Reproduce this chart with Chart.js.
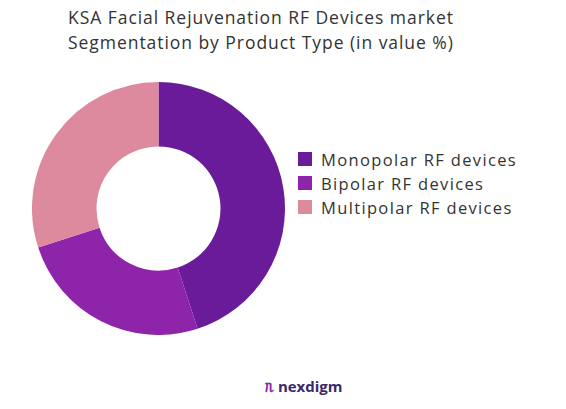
<!DOCTYPE html>
<html><head><meta charset="utf-8">
<script src="https://cdn.jsdelivr.net/npm/chart.js@4"></script>
<style>
body{margin:0;width:566px;height:409px;background:#fff;font-family:"Open Sans",sans-serif;position:relative;overflow:hidden}
#t{position:absolute;left:68px;top:5px;font-size:17.5px;letter-spacing:0.95px;color:#333;line-height:25px}
#w{position:absolute;left:32px;top:82px;width:253px;height:253px}
#lg{position:absolute;left:298px;top:147px;font-size:16.5px;letter-spacing:1.35px;color:#333}
#lg div{height:24px;display:flex;align-items:center}
#lg span{display:inline-block;width:14px;height:14px;margin-right:9px}
#logo{position:absolute;left:265px;top:376px;font-size:15px;font-weight:bold;color:#3a2a6a}
</style></head><body>
<div id="t">KSA Facial Rejuvenation RF Devices market<br>Segmentation by Product Type (in value %)</div>
<div id="w"><canvas id="c"></canvas></div>
<div id="lg"></div>
<div id="logo"><span style="color:#8e24aa">ᥰ</span> nexdigm</div>
<script>
const categories=["Monopolar RF devices","Bipolar RF devices","Multipolar RF devices"];
const values=[45,25,30];
const colors=["#6a1b9a","#8e24aa","#de8a9e"];
document.getElementById('lg').innerHTML=categories.map((c,i)=>`<div><span style="background:${colors[i]}"></span>${c}</div>`).join('');
new Chart(document.getElementById('c'),{type:'doughnut',
data:{labels:categories,datasets:[{data:values,backgroundColor:colors,borderWidth:0}]},
options:{responsive:true,maintainAspectRatio:false,animation:false,cutout:'49%',
plugins:{tooltip:{enabled:false},legend:{display:false}}}});
</script></body></html>
